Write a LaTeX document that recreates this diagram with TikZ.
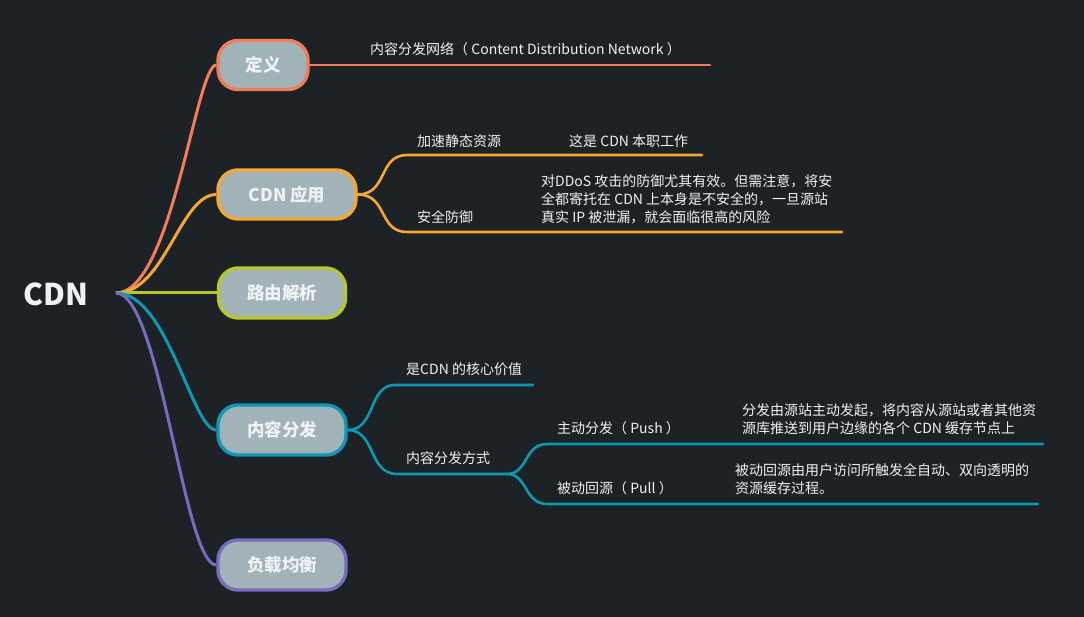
\documentclass[tikz,border=0pt]{standalone}
\usepackage{fontspec}
\setmainfont{Noto Sans CJK SC}
\definecolor{bg}{HTML}{1C2225}
\definecolor{nodefill}{HTML}{A1B3B8}
\definecolor{txt}{HTML}{EEF2F3}
\definecolor{coral}{HTML}{F27D5A}
\definecolor{orng}{HTML}{F6A733}
\definecolor{ygreen}{HTML}{B8C82C}
\definecolor{tealc}{HTML}{0E98B4}
\definecolor{purp}{HTML}{776DBE}
\tikzset{
  topic/.style={rounded corners=20pt, fill=nodefill, line width=3.4pt, minimum height=49pt, inner sep=0pt, text=txt, font=\fontsize{17.5}{17.5}\selectfont\bfseries},
  lbl/.style={anchor=west, inner sep=0pt, text=txt, font=\fontsize{14}{18}\selectfont, align=left},
  br/.style={line width=3pt},
  ul/.style={line width=2.6pt, line cap=round},
}
\begin{document}
\begin{tikzpicture}[x=1pt,y=-1pt]
\fill[bg] (0,0) rectangle (1084,617);
\useasboundingbox (0,0) rectangle (1084,617);

% root
\node[inner sep=0pt, text=txt, font=\fontsize{30}{30}\selectfont\bfseries] (root) at (56,294) {CDN};
\coordinate (o) at (116,293);

% main topics (positions only, drawn after connectors)
\path (263,65) node[topic, minimum width=90pt] (def) {\phantom{定义}};
\path (287,194.5) node[topic, minimum width=138pt] (app) {\phantom{CDN 应用}};
\path (282,293) node[topic, minimum width=127pt, minimum height=50pt] (route) {\phantom{路由解析}};
\path (282,430) node[topic, minimum width=128pt, minimum height=50pt] (dist) {\phantom{内容分发}};
\path (282,565) node[topic, minimum width=128pt, minimum height=50pt] (lb) {\phantom{负载均衡}};

% connectors from root
\draw[br,coral] (o) .. controls (172,293) and (196,65) .. (def.west);
\draw[br,orng] (o) .. controls (165,293) and (180,194.5) .. (app.west);
\draw[br,ygreen] (o) -- (route.west);
\draw[br,tealc] (o) .. controls (168,293) and (192,430) .. (dist.west);
\draw[br,purp] (o) .. controls (160,293) and (184,565) .. (lb.west);

% topics drawn on top
\node[topic, minimum width=90pt, draw=coral] at (def) {定义};
\node[topic, minimum width=138pt, draw=orng] at (app) {CDN 应用};
\node[topic, minimum width=127pt, minimum height=50pt, draw=ygreen] at (route) {路由解析};
\node[topic, minimum width=128pt, minimum height=50pt, draw=tealc] at (dist) {内容分发};
\node[topic, minimum width=128pt, minimum height=50pt, draw=purp] at (lb) {负载均衡};

% 定义
\coordinate (defe) at (710,65);
\draw[ul,coral] (def.east) -- (defe);
\node[lbl] (deft) at (370,49) {内容分发网络（ Content Distribution Network ）};

% CDN 应用
\coordinate (a1) at (407,155);
\coordinate (a1e) at (702,155);
\coordinate (a2) at (407,232);
\coordinate (a2e) at (842,232);
\draw[ul,orng] (app.east) .. controls (388,194.5) and (378,155) .. (a1) -- (a1e);
\draw[ul,orng] (app.east) .. controls (388,194.5) and (378,232) .. (a2) -- (a2e);
\node[lbl] (a1t) at (417,141) {加速静态资源};
\node[lbl] (a1c) at (569,141) {这是 CDN 本职工作};
\node[lbl] (a2t) at (417,217) {安全防御};
\node[lbl] (a2c) at (541,199.5) {对DDoS 攻击的防御尤其有效。但需注意，将安\\全都寄托在 CDN 上本身是不安全的，一旦源站\\真实 IP 被泄漏，就会面临很高的风险};

% 内容分发
\coordinate (d1) at (395,385);
\coordinate (d1e) at (533,385);
\coordinate (d2) at (397,474);
\coordinate (d2s) at (507,474);
\draw[ul,tealc] (dist.east) .. controls (376,430) and (368,385) .. (d1) -- (d1e);
\draw[ul,tealc] (dist.east) .. controls (376,430) and (368,474) .. (d2) -- (d2s);
\node[lbl] (d1t) at (406,369) {是CDN 的核心价值};
\node[lbl] (d2t) at (406,458) {内容分发方式};

\coordinate (p1) at (547,444);
\coordinate (p1e) at (1043,444);
\coordinate (p2) at (547,504);
\coordinate (p2e) at (1038,504);
\draw[ul,tealc] (d2s) .. controls (528,474) and (524,444) .. (p1) -- (p1e);
\draw[ul,tealc] (d2s) .. controls (528,474) and (524,504) .. (p2) -- (p2e);
\node[lbl] (p1t) at (557,428) {主动分发（ Push ）};
\node[lbl] (p1c) at (742,419) {分发由源站主动发起，将内容从源站或者其他资\\源库推送到用户边缘的各个 CDN 缓存节点上};
\node[lbl] (p2t) at (557,488) {被动回源（ Pull ）};
\node[lbl] (p2c) at (735,479) {被动回源由用户访问所触发全自动、双向透明的\\资源缓存过程。};
\end{tikzpicture}
\end{document}
